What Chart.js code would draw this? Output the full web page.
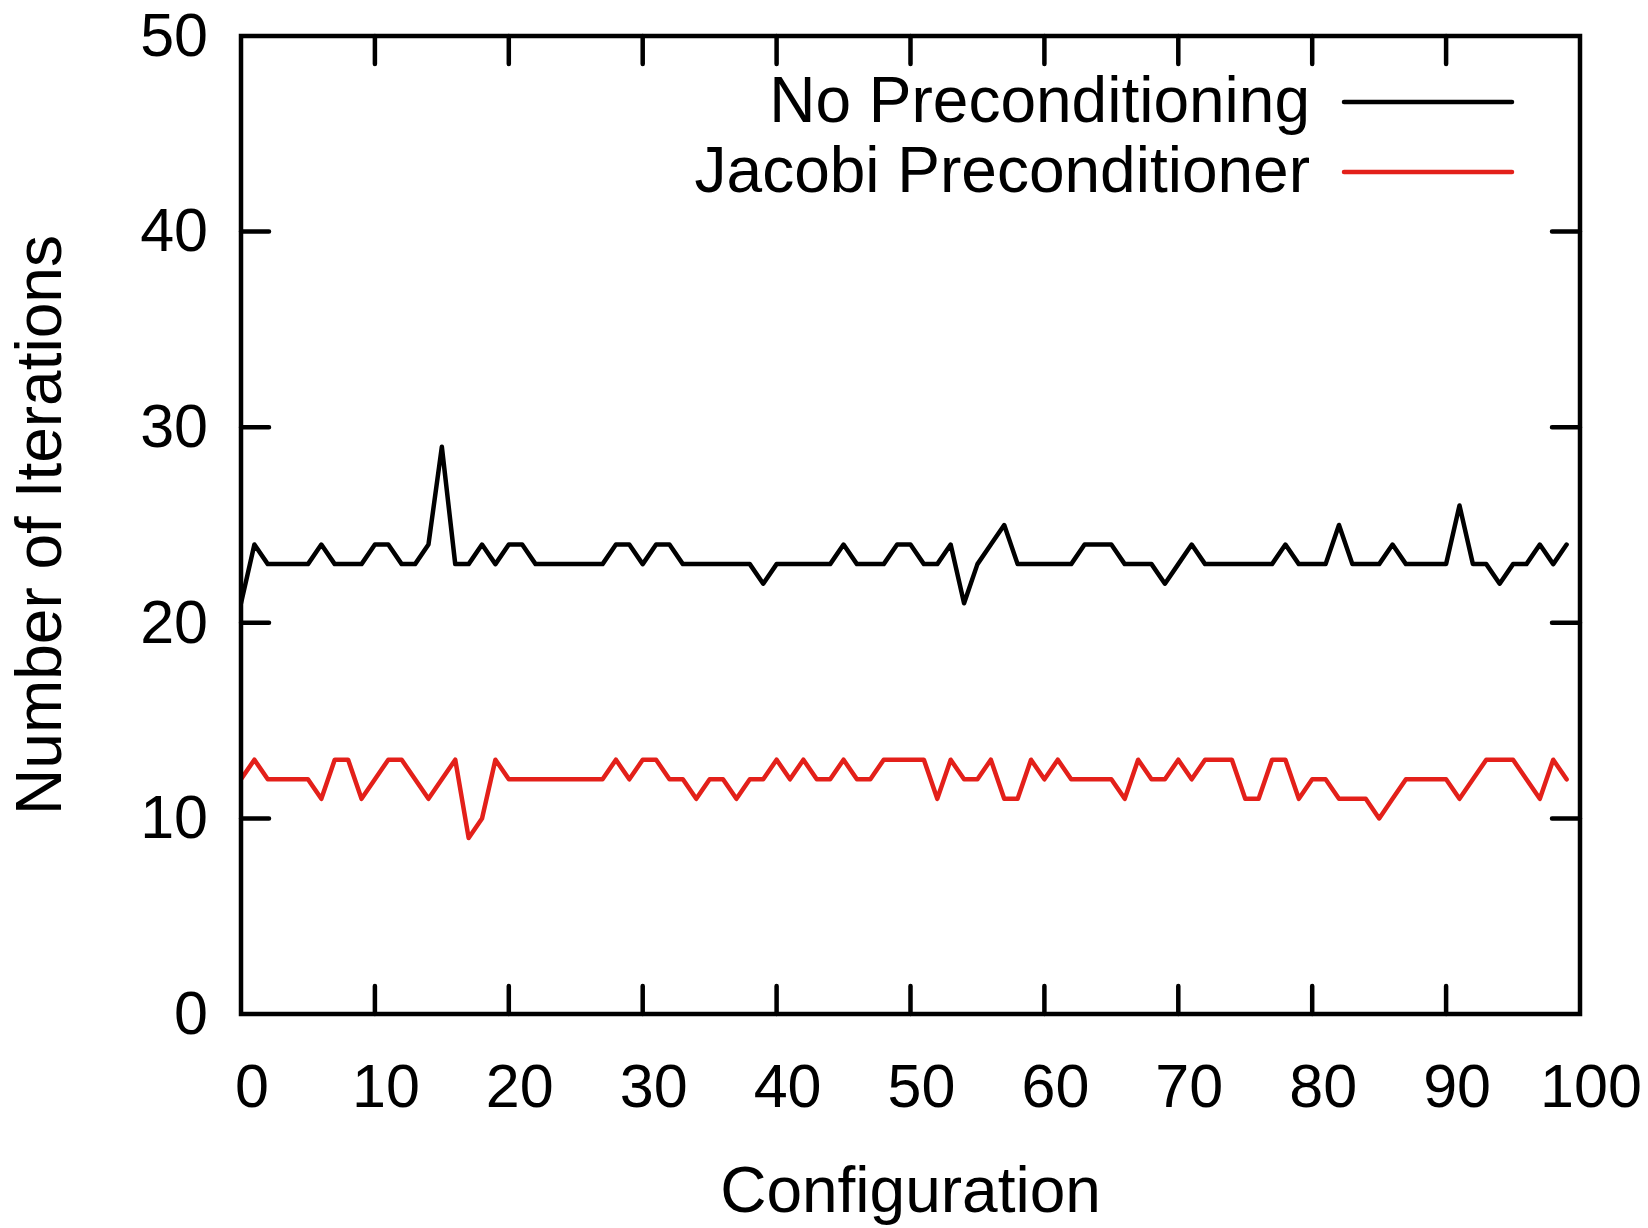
<!DOCTYPE html>
<html>
<head>
<meta charset="utf-8">
<script src="https://cdn.jsdelivr.net/npm/chart.js@4/dist/chart.umd.min.js"></script>
<style>
	html, body { margin: 0; padding: 0; background: #fff; }
	#wrap { width: 1648px; height: 1228px; }
</style>
</head>
<body>
<div id="wrap"><canvas id="chart" width="1648" height="1228"></canvas></div>
<script>
// Iteration counts per configuration (0..99)
const noPrecond = [
	21, 24, 23, 23, 23, 23, 24, 23, 23, 23,
	24, 24, 23, 23, 24, 29, 23, 23, 24, 23,
	24, 24, 23, 23, 23, 23, 23, 23, 24, 24,
	23, 24, 24, 23, 23, 23, 23, 23, 23, 22,
	23, 23, 23, 23, 23, 24, 23, 23, 23, 24,
	24, 23, 23, 24, 21, 23, 24, 25, 23, 23,
	23, 23, 23, 24, 24, 24, 23, 23, 23, 22,
	23, 24, 23, 23, 23, 23, 23, 23, 24, 23,
	23, 23, 25, 23, 23, 23, 24, 23, 23, 23,
	23, 26, 23, 23, 22, 23, 23, 24, 23, 24,
];
const jacobi = [
	12, 13, 12, 12, 12, 12, 11, 13, 13, 11,
	12, 13, 13, 12, 11, 12, 13, 9, 10, 13,
	12, 12, 12, 12, 12, 12, 12, 12, 13, 12,
	13, 13, 12, 12, 11, 12, 12, 11, 12, 12,
	13, 12, 13, 12, 12, 13, 12, 12, 13, 13,
	13, 13, 11, 13, 12, 12, 13, 11, 11, 13,
	12, 13, 12, 12, 12, 12, 11, 13, 12, 12,
	13, 12, 13, 13, 13, 11, 11, 13, 13, 11,
	12, 12, 11, 11, 11, 10, 11, 12, 12, 12,
	12, 11, 12, 13, 13, 13, 12, 11, 13, 12,
];
const seriesLabels = ["No Preconditioning", "Jacobi Preconditioner"];
const seriesColors = ["#000000", "#e3201a"];
const xTicks = [0, 10, 20, 30, 40, 50, 60, 70, 80, 90, 100];
const yTicks = [0, 10, 20, 30, 40, 50];

const FONT = "'Liberation Sans', Arial, Helvetica, sans-serif";

const toPoints = (arr) => arr.map((y, i) => ({ x: i, y }));

// stop chart.js from reserving room for overhanging tick labels
const noOverhang = (s) => {
	s.paddingTop = 0;
	s.paddingBottom = 0;
	s.paddingLeft = 0;
	s.paddingRight = 0;
};

// gnuplot style frame with inward ticks on all four sides
const framePlugin = {
	id: "frame",
	afterDatasetsDraw(chart) {
		const { ctx, chartArea: a, scales } = chart;
		const len = 28;
		ctx.save();
		ctx.strokeStyle = "#000";
		ctx.lineWidth = 4.5;
		ctx.lineCap = "round";
		ctx.beginPath();
		xTicks.forEach((v) => {
			const px = scales.x.getPixelForValue(v);
			if (v === 0 || v === 100) return;
			ctx.moveTo(px, a.bottom);
			ctx.lineTo(px, a.bottom - len);
			ctx.moveTo(px, a.top);
			ctx.lineTo(px, a.top + len);
		});
		yTicks.forEach((v) => {
			const py = scales.y.getPixelForValue(v);
			if (v === 0 || v === 50) return;
			ctx.moveTo(a.left, py);
			ctx.lineTo(a.left + len, py);
			ctx.moveTo(a.right, py);
			ctx.lineTo(a.right - len, py);
		});
		ctx.stroke();
		ctx.lineCap = "butt";
		ctx.lineJoin = "miter";
		ctx.strokeRect(a.left, a.top, a.right - a.left, a.bottom - a.top);
		ctx.restore();
	},
};

// key in the top right corner: text first, then a line sample
const keyPlugin = {
	id: "key",
	afterDraw(chart) {
		const { ctx, chartArea: a } = chart;
		ctx.save();
		ctx.font = "64px " + FONT;
		ctx.textAlign = "right";
		ctx.textBaseline = "middle";
		chart.data.datasets.forEach((ds, i) => {
			const y = a.top + 66 + i * 70;
			ctx.fillStyle = "#000";
			ctx.fillText(ds.label, a.right - 270, y + 2);
			ctx.strokeStyle = ds.borderColor;
			ctx.lineWidth = 4.5;
			ctx.lineCap = "round";
			ctx.beginPath();
			ctx.moveTo(a.right - 236, y);
			ctx.lineTo(a.right - 68, y);
			ctx.stroke();
		});
		ctx.restore();
	},
};

const datasets = [noPrecond, jacobi].map((arr, i) => ({
	label: seriesLabels[i],
	data: toPoints(arr),
	borderColor: seriesColors[i],
	backgroundColor: seriesColors[i],
	borderWidth: 4.5,
	pointRadius: 0,
	tension: 0,
	fill: false,
	borderJoinStyle: "round",
	borderCapStyle: "round",
}));

const ctx = document.getElementById("chart").getContext("2d");
new Chart(ctx, {
	type: "line",
	data: { datasets },
	options: {
		responsive: false,
		animation: false,
		events: [],
		layout: { padding: { top: 36, right: 68, left: 0, bottom: 0 } },
		plugins: {
			legend: { display: false },
			tooltip: { enabled: false },
		},
		scales: {
			x: {
				type: "linear",
				min: 0,
				max: 100,
				grid: { display: false, drawTicks: false },
				border: { display: false },
				afterBuildTicks: (s) => { s.ticks = xTicks.map((v) => ({ value: v })); },
				afterFit: (s) => { s.height = 214; noOverhang(s); },
				ticks: {
					color: "#000",
					font: { family: FONT, size: 61 },
					padding: 40,
					labelOffset: 11,
					maxRotation: 0,
					autoSkip: false,
				},
				title: {
					display: true,
					text: "Configuration",
					color: "#000",
					font: { family: FONT, size: 64, lineHeight: 1.05 },
					padding: { top: 0, bottom: 0 },
				},
			},
			y: {
				type: "linear",
				min: 0,
				max: 50,
				grid: { display: false, drawTicks: false },
				border: { display: false },
				afterBuildTicks: (s) => { s.ticks = yTicks.map((v) => ({ value: v })); },
				afterFit: (s) => { s.width = 241; noOverhang(s); },
				ticks: {
					color: "#000",
					font: { family: FONT, size: 61 },
					padding: 33,
					labelOffset: 3,
					autoSkip: false,
				},
				title: {
					display: true,
					text: "Number of Iterations",
					color: "#000",
					font: { family: FONT, size: 64 },
					padding: { top: 5, bottom: 0 },
				},
			},
		},
	},
	plugins: [framePlugin, keyPlugin],
});
</script>
</body>
</html>
